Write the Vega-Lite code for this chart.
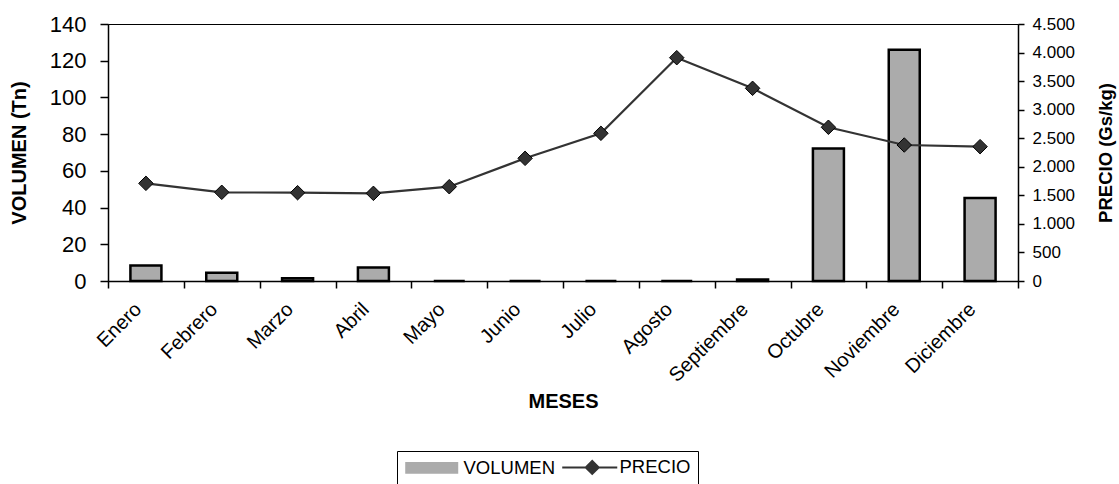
{
  "$schema": "https://vega.github.io/schema/vega-lite/v6.json",
  "width": 910,
  "height": 257,
  "autosize": {"type": "none"},
  "padding": {"left": 108, "top": 24, "right": 101, "bottom": 203},
  "background": "white",
  "config": {
    "locale": {"number": {"decimal": ",", "thousands": ".", "grouping": [3], "currency": ["", ""]}},
    "font": "Liberation Sans",
    "view": {"stroke": "#000", "strokeWidth": 1},
    "axis": {
      "domainColor": "#000", "tickColor": "#000", "labelColor": "#000", "titleColor": "#000",
      "grid": false, "labelFont": "Liberation Sans", "titleFont": "Liberation Sans",
      "domainWidth": 1.5, "tickWidth": 1.5
    }
  },
  "data": {
    "values": [
      {"mes": "Enero", "volumen": 8.5, "precio": 1710},
      {"mes": "Febrero", "volumen": 4.5, "precio": 1553},
      {"mes": "Marzo", "volumen": 1.5, "precio": 1546},
      {"mes": "Abril", "volumen": 7.3, "precio": 1535},
      {"mes": "Mayo", "volumen": 0, "precio": 1651},
      {"mes": "Junio", "volumen": 0, "precio": 2148},
      {"mes": "Julio", "volumen": 0, "precio": 2586},
      {"mes": "Agosto", "volumen": 0, "precio": 3910},
      {"mes": "Septiembre", "volumen": 0.8, "precio": 3374},
      {"mes": "Octubre", "volumen": 72.2, "precio": 2692},
      {"mes": "Noviembre", "volumen": 126, "precio": 2381},
      {"mes": "Diciembre", "volumen": 45.2, "precio": 2352}
    ]
  },
  "encoding": {
    "x": {
      "field": "mes", "type": "nominal", "sort": null,
      "scale": {"paddingInner": 0, "paddingOuter": 0},
      "axis": {
        "title": "MESES", "titleFontSize": 20, "titleFontWeight": "bold", "titlePadding": 6,
        "labelAngle": -45, "labelAlign": "right", "labelBaseline": "middle",
        "labelFontSize": 20, "labelPadding": 18, "labelOffset": -8, "tickSize": 7, "tickBand": "extent"
      }
    }
  },
  "layer": [
    {
      "mark": {"type": "bar", "size": 31, "stroke": "#000", "strokeWidth": 2.5},
      "encoding": {
        "y": {
          "field": "volumen", "type": "quantitative",
          "scale": {"domain": [0, 140]},
          "axis": {
            "title": "VOLUMEN (Tn)", "titleFontSize": 20, "titleFontWeight": "bold", "titlePadding": 20,
            "values": [0, 20, 40, 60, 80, 100, 120, 140],
            "labelFontSize": 22, "tickSize": 8, "labelPadding": 14
          }
        },
        "color": {
          "datum": "VOLUMEN",
          "scale": {"domain": ["VOLUMEN", "PRECIO"], "range": ["#ababab", "#333333"]},
          "legend": {
            "orient": "none", "legendX": 289, "legendY": 427, "direction": "horizontal",
            "title": null, "strokeColor": "#000", "fillColor": "#fff", "padding": 7,
            "labelFont": "Liberation Sans", "labelFontSize": 18.5, "labelColor": "#000",
            "symbolSize": 144, "columnPadding": 3, "labelOffset": 41,
            "symbolStrokeColor": "#000", "symbolStrokeWidth": 2, "symbolOpacity": 1,
            "symbolType": {"expr": "datum.value === 'PRECIO' ? 'M-1.17,0H8M3.83,-1.08L4.91,0L3.83,1.08L2.75,0Z' : 'M-1.17,-0.83H7.33V0.83H-1.17Z'"}
          }
        }
      }
    },
    {
      "mark": {
        "type": "line", "strokeWidth": 2.2,
        "point": {"shape": "diamond", "filled": true, "size": 210, "stroke": "#000", "strokeWidth": 1}
      },
      "encoding": {
        "y": {
          "field": "precio", "type": "quantitative",
          "scale": {"domain": [0, 4500]},
          "axis": {
            "orient": "right", "title": "PRECIO (Gs/kg)", "titleFontSize": 18.5, "titleFontWeight": "bold",
            "titleAngle": 270, "titleBaseline": "top", "titlePadding": 22,
            "values": [0, 500, 1000, 1500, 2000, 2500, 3000, 3500, 4000, 4500],
            "format": ",d", "labelFontSize": 17, "tickSize": 6, "labelPadding": 8
          }
        },
        "color": {"datum": "PRECIO", "legend": null}
      }
    }
  ],
  "resolve": {"scale": {"y": "independent"}}
}
